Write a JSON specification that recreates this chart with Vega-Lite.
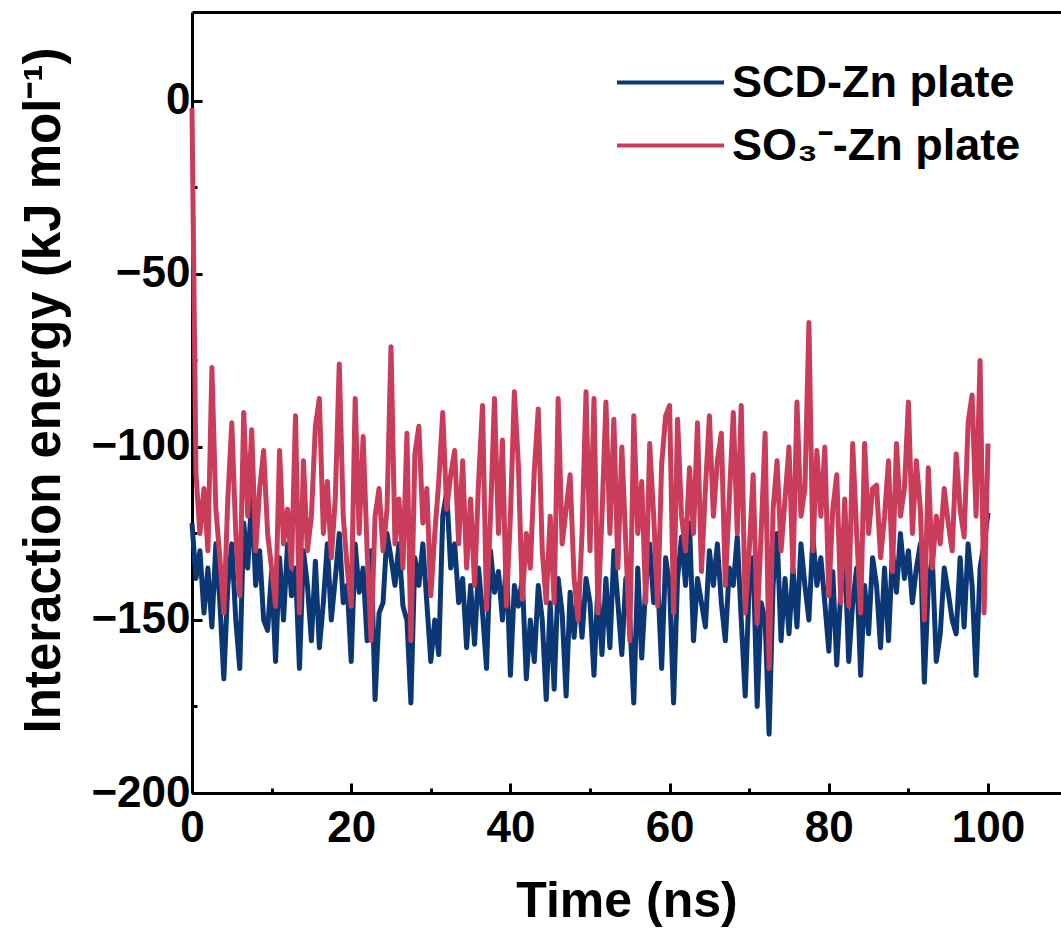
{
"$schema":"https://vega.github.io/schema/vega-lite/v6.json",
"width":869,"height":781,
"autosize":{"type":"none"},
"padding":{"left":192,"top":12,"right":0,"bottom":140},
"background":"white",
"config":{"view":{"stroke":null},"font":"Liberation Sans",
 "axis":{"grid":false,"domainColor":"black","domainWidth":3,"tickColor":"black","tickWidth":3,"labelColor":"black","labelFontWeight":"bold","labelFontSize":44,"labelFont":"Liberation Sans","titleFont":"Liberation Sans","titleColor":"black","titleFontWeight":"bold","labelFlush":false,"labelOverlap":false,"labelBound":false}},
"data":{"values":[
{"t":0,"scd":-122,"so3":-2},{"t":0.5,"scd":-138,"so3":-108},{"t":1,"scd":-130,"so3":-125},{"t":1.5,"scd":-148,"so3":-112},{"t":2,"scd":-135,"so3":-130},{"t":2.5,"scd":-152,"so3":-77},{"t":3,"scd":-128,"so3":-118},{"t":3.5,"scd":-145,"so3":-132},{"t":4,"scd":-167,"so3":-148},{"t":4.5,"scd":-140,"so3":-115},
{"t":5,"scd":-128,"so3":-93},{"t":5.5,"scd":-150,"so3":-125},{"t":6,"scd":-164,"so3":-143},{"t":6.5,"scd":-122,"so3":-90},{"t":7,"scd":-135,"so3":-120},{"t":7.5,"scd":-114,"so3":-95},{"t":8,"scd":-140,"so3":-130},{"t":8.5,"scd":-130,"so3":-112},{"t":9,"scd":-150,"so3":-101},{"t":9.5,"scd":-153,"so3":-125},
{"t":10,"scd":-136,"so3":-135},{"t":10.5,"scd":-162,"so3":-146},{"t":11,"scd":-132,"so3":-101},{"t":11.5,"scd":-150,"so3":-128},{"t":12,"scd":-128,"so3":-118},{"t":12.5,"scd":-143,"so3":-135},{"t":13,"scd":-135,"so3":-91},{"t":13.5,"scd":-164,"so3":-148},{"t":14,"scd":-130,"so3":-104},{"t":14.5,"scd":-140,"so3":-130},
{"t":15,"scd":-156,"so3":-120},{"t":15.5,"scd":-133,"so3":-94},{"t":16,"scd":-158,"so3":-86},{"t":16.5,"scd":-145,"so3":-125},{"t":17,"scd":-128,"so3":-110},{"t":17.5,"scd":-150,"so3":-132},{"t":18,"scd":-138,"so3":-115},{"t":18.5,"scd":-125,"so3":-76},{"t":19,"scd":-145,"so3":-120},{"t":19.5,"scd":-140,"so3":-135},
{"t":20,"scd":-162,"so3":-146},{"t":20.5,"scd":-128,"so3":-86},{"t":21,"scd":-142,"so3":-125},{"t":21.5,"scd":-135,"so3":-97},{"t":22,"scd":-156,"so3":-130},{"t":22.5,"scd":-130,"so3":-156},{"t":23,"scd":-173,"so3":-120},{"t":23.5,"scd":-148,"so3":-112},{"t":24,"scd":-145,"so3":-130},{"t":24.5,"scd":-125,"so3":-118},
{"t":25,"scd":-132,"so3":-71},{"t":25.5,"scd":-140,"so3":-128},{"t":26,"scd":-128,"so3":-115},{"t":26.5,"scd":-146,"so3":-135},{"t":27,"scd":-150,"so3":-96},{"t":27.5,"scd":-174,"so3":-156},{"t":28,"scd":-132,"so3":-102},{"t":28.5,"scd":-140,"so3":-94},{"t":29,"scd":-128,"so3":-122},{"t":29.5,"scd":-145,"so3":-112},
{"t":30,"scd":-162,"so3":-143},{"t":30.5,"scd":-150,"so3":-125},{"t":31,"scd":-160,"so3":-110},{"t":31.5,"scd":-120,"so3":-90},{"t":32,"scd":-113,"so3":-118},{"t":32.5,"scd":-135,"so3":-108},{"t":33,"scd":-128,"so3":-101},{"t":33.5,"scd":-145,"so3":-128},{"t":34,"scd":-138,"so3":-104},{"t":34.5,"scd":-158,"so3":-135},
{"t":35,"scd":-140,"so3":-115},{"t":35.5,"scd":-157,"so3":-140},{"t":36,"scd":-135,"so3":-110},{"t":36.5,"scd":-148,"so3":-88},{"t":37,"scd":-164,"so3":-147},{"t":37.5,"scd":-130,"so3":-120},{"t":38,"scd":-142,"so3":-86},{"t":38.5,"scd":-136,"so3":-125},{"t":39,"scd":-150,"so3":-98},{"t":39.5,"scd":-133,"so3":-146},
{"t":40,"scd":-166,"so3":-120},{"t":40.5,"scd":-140,"so3":-84},{"t":41,"scd":-146,"so3":-105},{"t":41.5,"scd":-138,"so3":-144},{"t":42,"scd":-167,"so3":-125},{"t":42.5,"scd":-150,"so3":-135},{"t":43,"scd":-162,"so3":-107},{"t":43.5,"scd":-140,"so3":-89},{"t":44,"scd":-150,"so3":-130},{"t":44.5,"scd":-173,"so3":-145},
{"t":45,"scd":-145,"so3":-120},{"t":45.5,"scd":-170,"so3":-145},{"t":46,"scd":-138,"so3":-86},{"t":46.5,"scd":-148,"so3":-128},{"t":47,"scd":-172,"so3":-118},{"t":47.5,"scd":-142,"so3":-108},{"t":48,"scd":-155,"so3":-138},{"t":48.5,"scd":-140,"so3":-150},{"t":49,"scd":-155,"so3":-125},{"t":49.5,"scd":-138,"so3":-84},
{"t":50,"scd":-145,"so3":-130},{"t":50.5,"scd":-166,"so3":-86},{"t":51,"scd":-140,"so3":-148},{"t":51.5,"scd":-160,"so3":-120},{"t":52,"scd":-138,"so3":-87},{"t":52.5,"scd":-158,"so3":-125},{"t":53,"scd":-130,"so3":-92},{"t":53.5,"scd":-145,"so3":-135},{"t":54,"scd":-160,"so3":-100},{"t":54.5,"scd":-138,"so3":-128},
{"t":55,"scd":-150,"so3":-156},{"t":55.5,"scd":-174,"so3":-91},{"t":56,"scd":-135,"so3":-125},{"t":56.5,"scd":-161,"so3":-110},{"t":57,"scd":-140,"so3":-145},{"t":57.5,"scd":-128,"so3":-99},{"t":58,"scd":-145,"so3":-120},{"t":58.5,"scd":-138,"so3":-146},{"t":59,"scd":-164,"so3":-105},{"t":59.5,"scd":-132,"so3":-91},
{"t":60,"scd":-140,"so3":-88},{"t":60.5,"scd":-174,"so3":-148},{"t":61,"scd":-138,"so3":-92},{"t":61.5,"scd":-126,"so3":-120},{"t":62,"scd":-140,"so3":-130},{"t":62.5,"scd":-122,"so3":-106},{"t":63,"scd":-156,"so3":-125},{"t":63.5,"scd":-138,"so3":-93},{"t":64,"scd":-145,"so3":-136},{"t":64.5,"scd":-152,"so3":-112},
{"t":65,"scd":-130,"so3":-91},{"t":65.5,"scd":-140,"so3":-120},{"t":66,"scd":-128,"so3":-104},{"t":66.5,"scd":-145,"so3":-96},{"t":67,"scd":-156,"so3":-140},{"t":67.5,"scd":-135,"so3":-115},{"t":68,"scd":-140,"so3":-90},{"t":68.5,"scd":-126,"so3":-125},{"t":69,"scd":-150,"so3":-88},{"t":69.5,"scd":-172,"so3":-148},
{"t":70,"scd":-140,"so3":-130},{"t":70.5,"scd":-132,"so3":-108},{"t":71,"scd":-175,"so3":-151},{"t":71.5,"scd":-145,"so3":-125},{"t":72,"scd":-150,"so3":-96},{"t":72.5,"scd":-183,"so3":-164},{"t":73,"scd":-140,"so3":-118},{"t":73.5,"scd":-125,"so3":-104},{"t":74,"scd":-156,"so3":-130},{"t":74.5,"scd":-138,"so3":-115},
{"t":75,"scd":-154,"so3":-100},{"t":75.5,"scd":-135,"so3":-136},{"t":76,"scd":-152,"so3":-87},{"t":76.5,"scd":-128,"so3":-120},{"t":77,"scd":-140,"so3":-112},{"t":77.5,"scd":-150,"so3":-64},{"t":78,"scd":-126,"so3":-130},{"t":78.5,"scd":-140,"so3":-101},{"t":79,"scd":-132,"so3":-120},{"t":79.5,"scd":-145,"so3":-100},
{"t":80,"scd":-159,"so3":-143},{"t":80.5,"scd":-136,"so3":-118},{"t":81,"scd":-163,"so3":-108},{"t":81.5,"scd":-142,"so3":-145},{"t":82,"scd":-130,"so3":-115},{"t":82.5,"scd":-162,"so3":-146},{"t":83,"scd":-145,"so3":-99},{"t":83.5,"scd":-135,"so3":-125},{"t":84,"scd":-166,"so3":-148},{"t":84.5,"scd":-140,"so3":-99},
{"t":85,"scd":-154,"so3":-125},{"t":85.5,"scd":-132,"so3":-112},{"t":86,"scd":-140,"so3":-111},{"t":86.5,"scd":-158,"so3":-132},{"t":87,"scd":-135,"so3":-120},{"t":87.5,"scd":-156,"so3":-104},{"t":88,"scd":-130,"so3":-136},{"t":88.5,"scd":-142,"so3":-99},{"t":89,"scd":-125,"so3":-120},{"t":89.5,"scd":-138,"so3":-112},
{"t":90,"scd":-130,"so3":-87},{"t":90.5,"scd":-145,"so3":-125},{"t":91,"scd":-135,"so3":-104},{"t":91.5,"scd":-128,"so3":-118},{"t":92,"scd":-168,"so3":-150},{"t":92.5,"scd":-140,"so3":-106},{"t":93,"scd":-132,"so3":-135},{"t":93.5,"scd":-162,"so3":-120},{"t":94,"scd":-154,"so3":-128},{"t":94.5,"scd":-135,"so3":-112},
{"t":95,"scd":-142,"so3":-122},{"t":95.5,"scd":-150,"so3":-130},{"t":96,"scd":-154,"so3":-102},{"t":96.5,"scd":-132,"so3":-118},{"t":97,"scd":-152,"so3":-126},{"t":97.5,"scd":-128,"so3":-93},{"t":98,"scd":-140,"so3":-85},{"t":98.5,"scd":-166,"so3":-120},{"t":99,"scd":-135,"so3":-75},{"t":99.5,"scd":-128,"so3":-148},
{"t":100,"scd":-119,"so3":-99}
]},
"layer":[
{"mark":{"type":"line","strokeWidth":5,"strokeJoin":"round"},
 "encoding":{
  "x":{"field":"t","type":"quantitative","scale":{"domain":[0,109.17],"nice":false,"zero":false},
   "axis":{"orient":"bottom","values":[0,10,20,30,40,50,60,70,80,90,100],"labelExpr":"datum.value % 20 === 0 ? datum.label : ''","tickSize":{"condition":{"test":"datum.value % 20 === 0","value":-10},"value":-5},"labelPadding":23,"title":"Time (ns)","titleFontSize":50,"titlePadding":21}},
  "y":{"field":"scd","type":"quantitative","scale":{"domain":[-200,25.72],"nice":false,"zero":false},
   "axis":{"orient":"left","values":[-200,-175,-150,-125,-100,-75,-50,-25,0],"labelExpr":"datum.value % 50 === 0 ? datum.label : ''","tickSize":{"condition":{"test":"datum.value % 50 === 0","value":-10},"value":-5},"labelPadding":12,"title":"Interaction energy (kJ mol⁻¹)","titleFontSize":51,"titlePadding":20,"titleY":378}},
  "color":{"datum":"SCD-Zn plate","type":"nominal","scale":{"domain":["SCD-Zn plate","SO₃⁻-Zn plate"],"range":["#0b3875","#c93c5a"]},
   "legend":{"orient":"none","legendX":423,"legendY":40,"padding":0,"title":null,"symbolType":"stroke","symbolSize":11449,"symbolStrokeWidth":4,"labelFontSize":45,"labelFontWeight":"bold","labelColor":"black","labelFont":"Liberation Sans","labelOffset":6,"clipHeight":61,"rowPadding":2,"labelLimit":400}}
 }},
{"mark":{"type":"line","strokeWidth":5,"strokeJoin":"round"},
 "encoding":{
  "x":{"field":"t","type":"quantitative","axis":{"orient":"top","labels":false,"ticks":false,"title":null}},
  "y":{"field":"so3","type":"quantitative",
   "axis":{"orient":"left","values":[-200,-175,-150,-125,-100,-75,-50,-25,0],"labelExpr":"datum.value % 50 === 0 ? datum.label : ''","tickSize":{"condition":{"test":"datum.value % 50 === 0","value":-10},"value":-5},"labelPadding":12,"title":"Interaction energy (kJ mol⁻¹)","titleFontSize":51,"titlePadding":20,"titleY":378}},
  "color":{"datum":"SO₃⁻-Zn plate","type":"nominal"}
 }}
],
"resolve":{"axis":{"x":"independent"}}
}
